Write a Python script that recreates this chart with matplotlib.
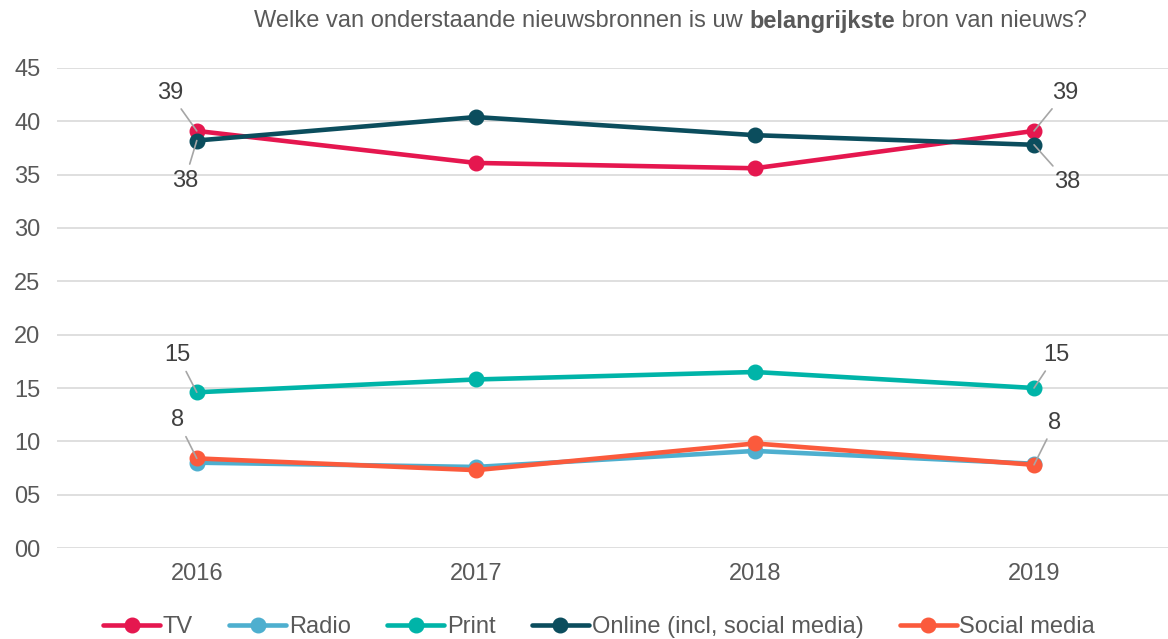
"""
Lijngrafiek: belangrijkste nieuwsbron per jaar.
"""

import matplotlib
matplotlib.use('Agg')
from matplotlib import pyplot as plt

years = ['2016', '2017', '2018', '2019']
tv = [39.1, 36.1, 35.6, 39.1]
radio = [8.0, 7.6, 9.1, 7.9]
printed = [14.6, 15.8, 16.5, 15.0]
online = [38.2, 40.4, 38.7, 37.8]
social = [8.4, 7.3, 9.8, 7.8]

series_names = ['TV', 'Radio', 'Print', 'Online (incl, social media)', 'Social media']
y_ticks = [0, 5, 10, 15, 20, 25, 30, 35, 40, 45]
y_tick_labels = ['00', '05', '10', '15', '20', '25', '30', '35', '40', '45']

colors = ['#e5174f', '#4eafcf', '#00b4a8', '#0b4d5d', '#fb5a3c']
text_color = '#595959'
label_color = '#404040'
FS = 17


def label_point(ax, x, y, dx, dy):
    # datalabel met grijze verbindingslijn, offset in pixels
    ax.annotate(f'{y:.0f}', xy=(x, y), xytext=(dx, dy), textcoords='offset pixels',
                ha='center', va='center', fontsize=FS, color=label_color, zorder=5,
                arrowprops=dict(arrowstyle='-', color='#a6a6a6', lw=1.2,
                                shrinkA=2, shrinkB=0))


def main():
    plt.rcParams['font.family'] = ['Liberation Sans', 'DejaVu Sans']

    fig = plt.figure(figsize=(11.68, 6.39), dpi=100)
    ax = fig.add_axes([0.049, 0.1424, 0.951, 0.7512])

    x = list(range(len(years)))
    for values, name, color in zip([tv, radio, printed, online, social], series_names, colors):
        ax.plot(x, values, color=color, lw=3.3, marker='o', markersize=10.5,
                solid_capstyle='round', label=name)

    ax.set_xlim(-0.5, 3.48)
    ax.set_ylim(0, 45)
    ax.set_yticks(y_ticks)
    ax.set_yticklabels(y_tick_labels)
    ax.set_xticks(x)
    ax.set_xticklabels(years)
    ax.tick_params(axis='both', length=0, labelsize=FS, labelcolor=text_color)
    ax.tick_params(axis='x', pad=11)
    ax.tick_params(axis='y', pad=12)
    for side in ax.spines:
        ax.spines[side].set_visible(False)
    ax.grid(axis='y', color='#d9d9d9', lw=1.2)
    ax.set_axisbelow(True)

    label_point(ax, 0, tv[0], -27, 38)
    label_point(ax, 0, online[0], -12, -40)
    label_point(ax, 3, tv[3], 31, 38)
    label_point(ax, 3, online[3], 33, -37)
    label_point(ax, 0, printed[0], -19, 37)
    label_point(ax, 3, printed[3], 22, 33)
    label_point(ax, 0, social[0], -19, 38)
    label_point(ax, 3, social[3], 21, 42)

    # titel met vet woord in het midden
    ty = 0.967
    t1 = fig.text(0.2175, ty, 'Welke van onderstaande nieuwsbronnen is uw ',
                  fontsize=FS, color=text_color, va='center', ha='left')
    t2 = fig.text(0, ty, 'belangrijkste', fontsize=FS, color=text_color,
                  fontweight='bold', va='center', ha='left')
    t3 = fig.text(0, ty, ' bron van nieuws?', fontsize=FS, color=text_color,
                  va='center', ha='left')
    fig.canvas.draw()
    r = fig.canvas.get_renderer()
    inv = fig.transFigure.inverted()
    bb1 = t1.get_window_extent(r)
    t2.set_x(inv.transform((bb1.x1, 0))[0])
    bb2 = t2.get_window_extent(r)
    t3.set_x(inv.transform((bb2.x1, 0))[0])

    fig.legend(loc='center', bbox_to_anchor=(0.513, 0.019), ncol=5, frameon=False,
               fontsize=FS, labelcolor=text_color, handlelength=2.4,
               handletextpad=0.12, columnspacing=1.55, borderaxespad=0)

    plt.savefig('out.png', dpi=100)


if __name__ == '__main__':
    main()
